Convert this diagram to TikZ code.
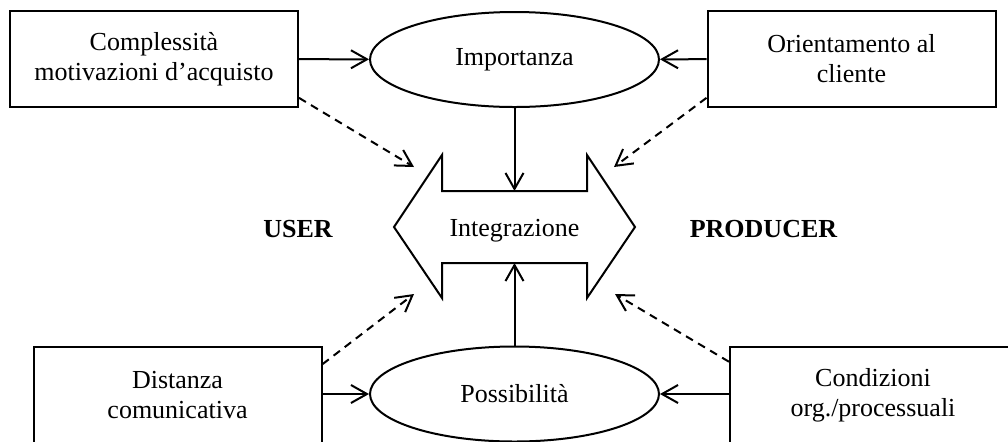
\documentclass[tikz,border=0pt]{standalone}
\usepackage{fontspec}
\setmainfont{Liberation Serif}
\usepackage{tikz}
\usetikzlibrary{
  arrows.meta,
  calc,
  positioning,
  shapes.geometric
}
\definecolor{inkblack}{RGB}{0,0,0}
\tikzset{
  factor/.style={draw=inkblack,line width=1pt,rectangle,align=center,
    minimum width=144pt,minimum height=48pt,inner sep=0pt,
    font=\fontsize{13pt}{15pt}\selectfont},
  driver/.style={draw=inkblack,line width=1pt,ellipse,align=center,
    minimum width=144.5pt,minimum height=47.5pt,inner sep=0pt,
    font=\fontsize{13pt}{15pt}\selectfont},
  side/.style={font=\fontsize{13pt}{15pt}\selectfont\bfseries,inner sep=0pt},
  flow/.style={-{Straight Barb[length=8pt,width=9pt]},line width=1pt,draw=inkblack},
  hint/.style={-{Straight Barb[length=8pt,width=9pt]},line width=1pt,
    dash pattern=on 4pt off 3pt,draw=inkblack}
}

\begin{document}
\begin{tikzpicture}[x=0.5pt,y=-0.5pt]
  \useasboundingbox (0,0) rectangle (1008,441);
  \clip (0,0) rectangle (1008,441);
  % the two ovals and the four boxes
  \node[driver] (imp) at (514.5,59.5) {Importanza};
  \node[driver] (poss) at (514.5,394) {Possibilità};
  \node[factor] (compl) at (154,59) {Complessità\\motivazioni d’acquisto};
  \node[factor] (orient) at (851.5,59) {Orientamento al\\cliente};
  \node[factor] (dist) at (177.5,395) {Distanza\\comunicativa};
  \node[factor,minimum width=143pt] (cond) at (873,395) {Condizioni\\org./processuali};
  % double arrow
  \draw[line width=1pt,line join=miter] (394,227) -- (442,155) -- (442,191) -- (587,191)
    -- (587,155) -- (635,227) -- (587,298) -- (587,263) -- (442,263)
    -- (442,298) -- cycle;
  \node[font=\fontsize{13pt}{15pt}\selectfont] (integ) at (514.5,231) {Integrazione};
  \coordinate (shafttop) at (514.5,191);
  \coordinate (shaftbot) at (514.5,263);
  \node[side] (user) at (298,229) {USER};
  \node[side] (prod) at (763.5,229) {PRODUCER};
  % dashed hints
  \coordinate (tipnw) at (414,167);
  \coordinate (tipne) at (614,167);
  \coordinate (tipsw) at (414,294);
  \coordinate (tipse) at (615,294);
  \draw[flow] (compl)--(imp);
  \draw[flow] (orient)--(imp);
  \draw[flow] (dist.east|-poss)--(poss);
  \draw[flow] (cond.west|-poss)--(poss);
  \draw[flow] (imp.south)--(shafttop);
  \draw[flow] (poss.north)--(shaftbot);
  \draw[hint] (compl.-15)--(tipnw);
  \draw[hint] (orient.195)--(tipne);
  \draw[hint] (dist.12.5)--(tipsw);
  \draw[hint] (cond.167.5)--(tipse);
\end{tikzpicture}
\end{document}
